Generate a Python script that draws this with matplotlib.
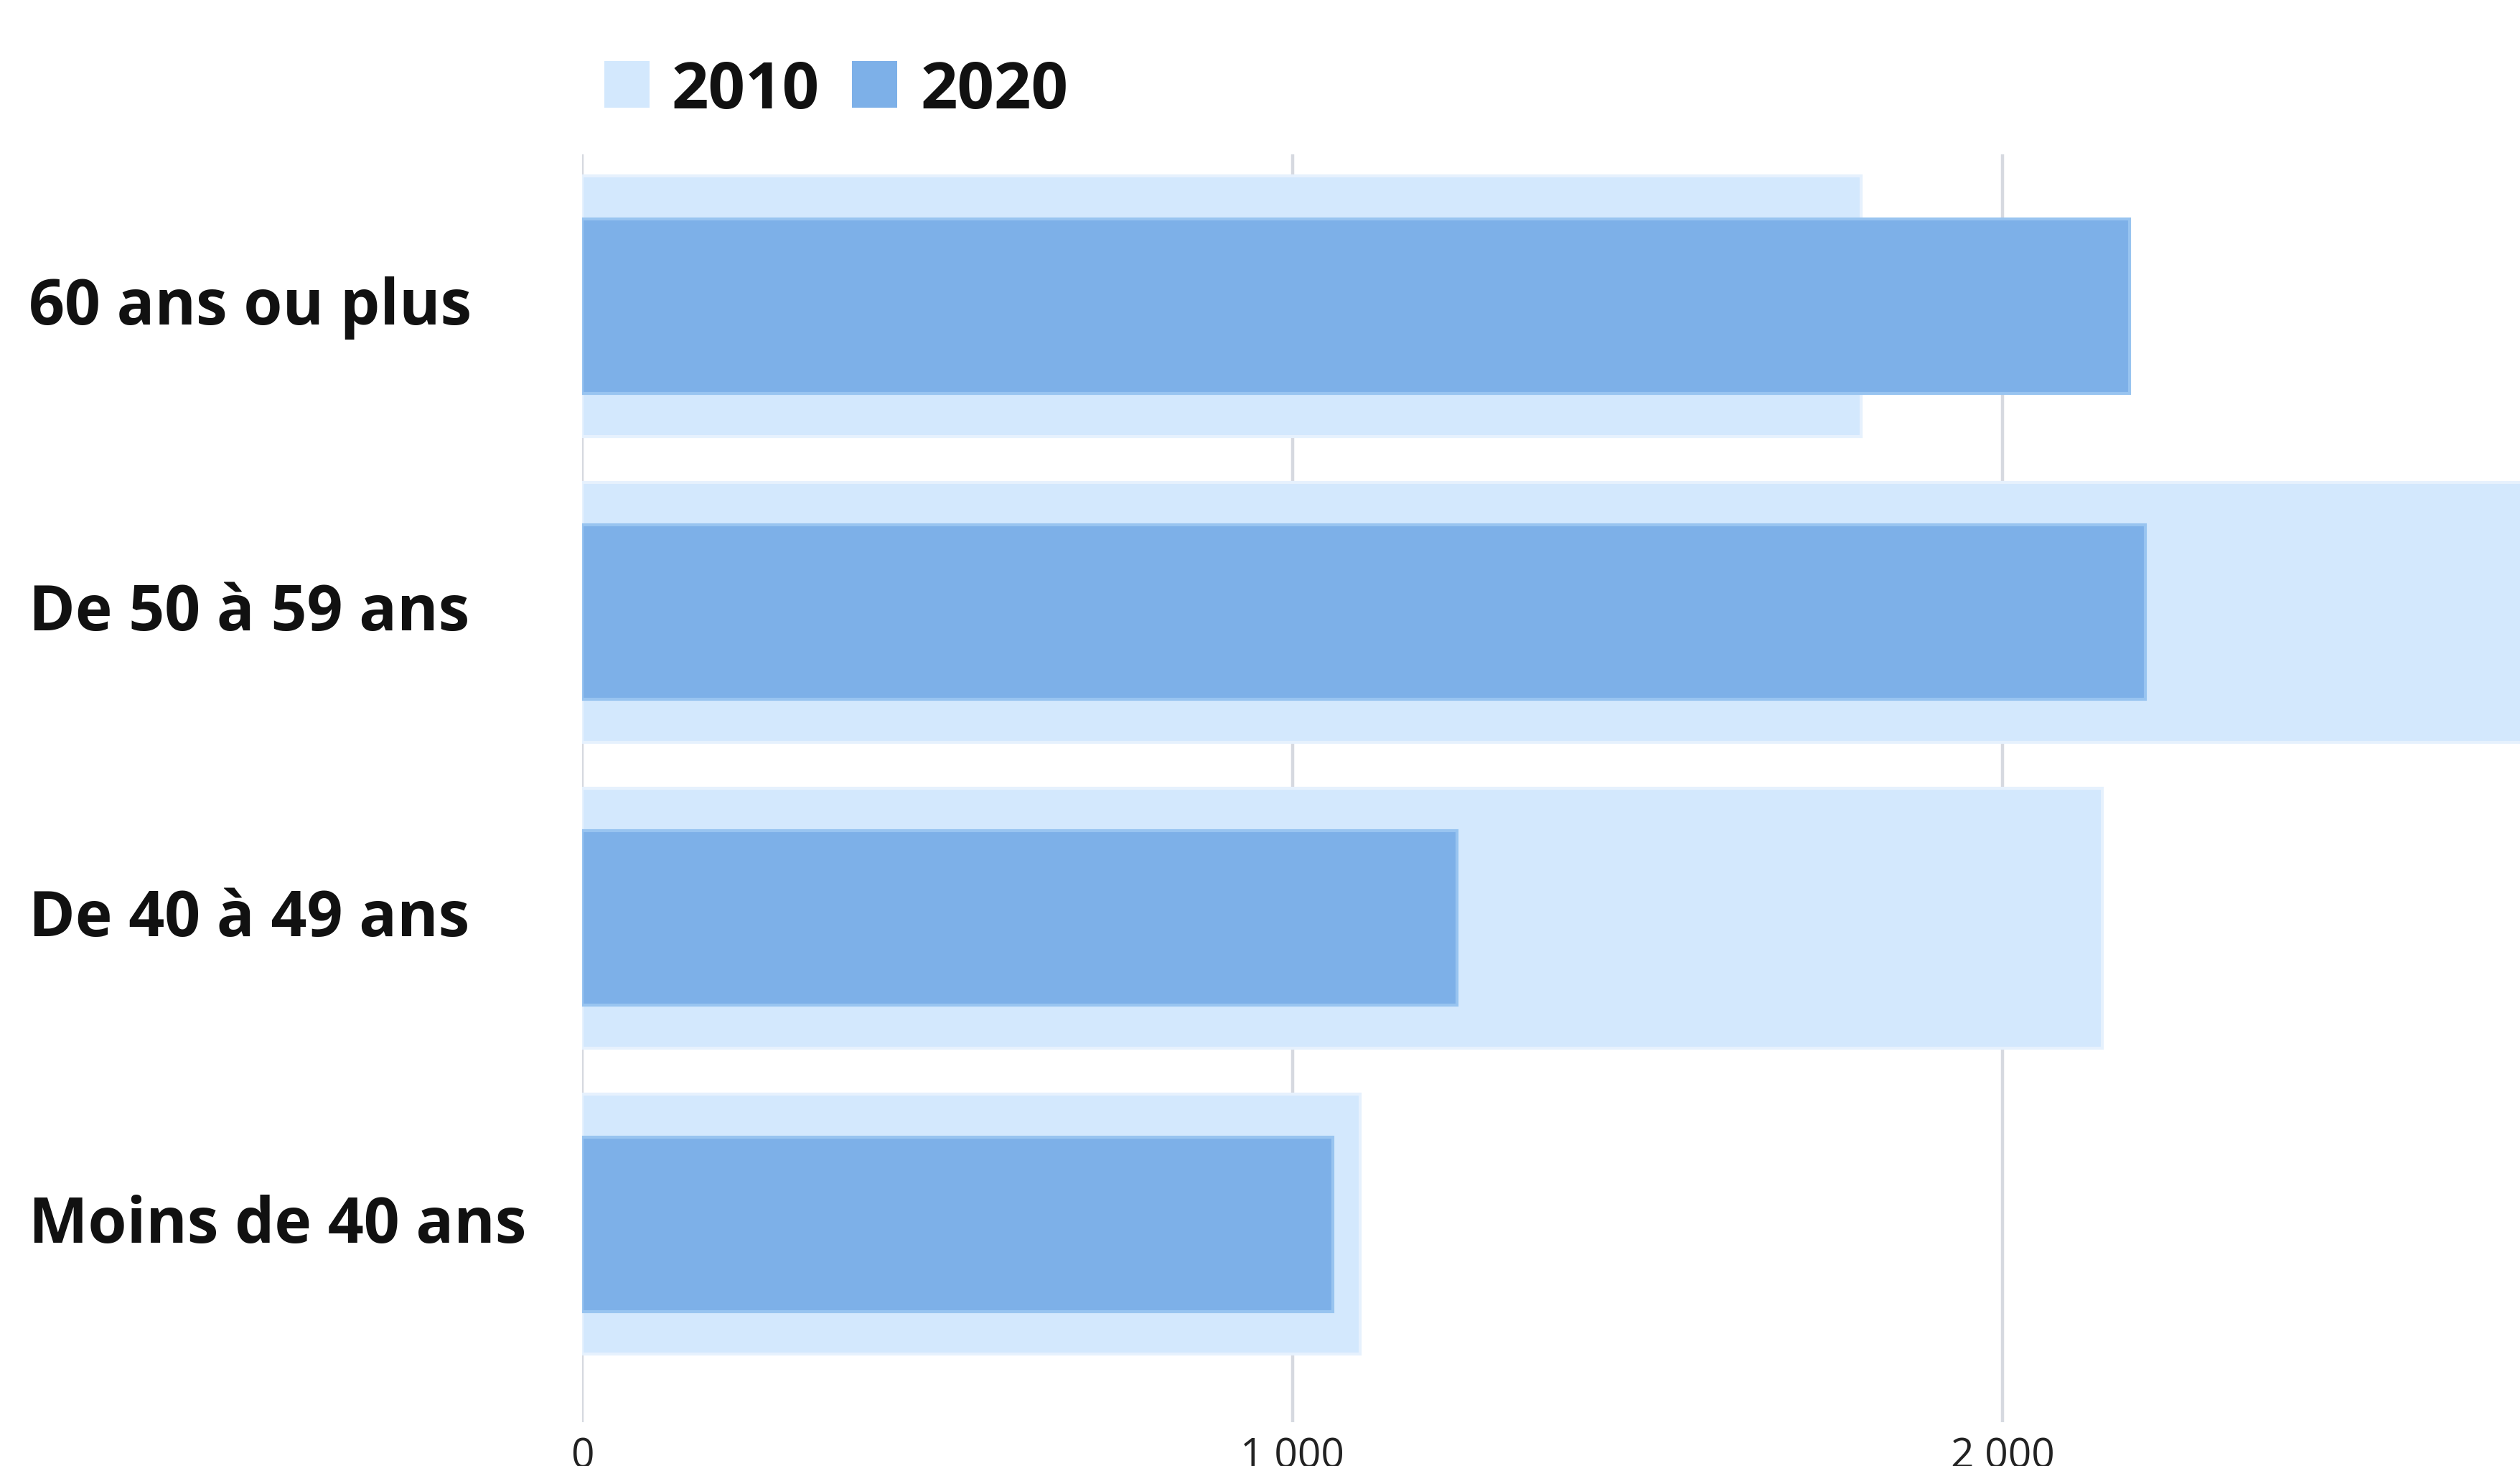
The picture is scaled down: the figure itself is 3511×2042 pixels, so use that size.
import matplotlib
matplotlib.use("Agg")
import matplotlib.pyplot as plt
from matplotlib.patches import Rectangle
from matplotlib.ticker import FuncFormatter
from matplotlib.transforms import ScaledTranslation

# ---- data ----
categories = ["Moins de 40 ans", "De 40 à 49 ans", "De 50 à 59 ans", "60 ans ou plus"]
series_names = ["2010", "2020"]
values_2010 = [1095, 2140, 2850, 1801]
values_2020 = [1057, 1232, 2201, 2179]
x_ticks = [0, 1000, 2000]

# ---- style ----
c2010, e2010 = "#D3E8FD", "#E6F1FD"
c2020, e2020 = "#7DB0E8", "#98C4F0"
grid_color = "#D6D9E0"
FONT = ["Open Sans", "DejaVu Sans"]
plt.rcParams["font.family"] = FONT

W, H, DPI = 3511, 2042, 100
fig = plt.figure(figsize=(W / DPI, H / DPI), dpi=DPI)
fig.patch.set_facecolor("white")

left_px, top_px, bottom_px = 811, 215, 1981
ax = fig.add_axes([left_px / W, 1 - bottom_px / H, 1 - left_px / W, (bottom_px - top_px) / H])

ypos = list(range(len(categories)))
ax.barh(ypos, values_2010, height=0.85, color=c2010, edgecolor=e2010, linewidth=3, zorder=2)
ax.barh(ypos, values_2020, height=0.57, color=c2020, edgecolor=e2020, linewidth=3, zorder=3)

ax.set_xlim(0, (W - left_px) / 989.5 * 1000)
ax.set_ylim(-0.647, 3.496)

for s in ax.spines.values():
    s.set_visible(False)

ax.set_xticks(x_ticks)
ax.xaxis.set_major_formatter(FuncFormatter(lambda v, p: f"{int(v):,}".replace(",", " ")))
ax.grid(axis="x", color=grid_color, linewidth=3.2, zorder=0)
ax.set_axisbelow(True)
ax.tick_params(axis="x", length=0, pad=15, labelsize=41, labelcolor="#222222")

ax.set_yticks(ypos)
ax.set_yticklabels(categories, fontsize=63, fontweight="bold", color="#111111", ha="left")
ax.tick_params(axis="y", length=0, pad=(left_px - 40) / DPI * 72)
shift_up = ScaledTranslation(0, 8 / DPI, fig.dpi_scale_trans)
for lbl in ax.get_yticklabels():
    lbl.set_transform(lbl.get_transform() + shift_up)

# ---- legend (manual) ----
sq_w, sq_h = 63, 65
legend_items = [(842, 936, c2010, e2010, series_names[0]), (1187, 1283, c2020, e2020, series_names[1])]
for sx, tx, fc, ec, lab in legend_items:
    fig.patches.append(Rectangle((sx / W, 1 - 150 / H), sq_w / W, sq_h / H,
                                 transform=fig.transFigure, facecolor=fc, edgecolor="none"))
    fig.text(tx / W, 1 - 117.5 / H, lab, fontsize=65, fontweight="bold", color="#111111",
             va="center_baseline", ha="left")

fig.savefig("out.png", dpi=DPI)
